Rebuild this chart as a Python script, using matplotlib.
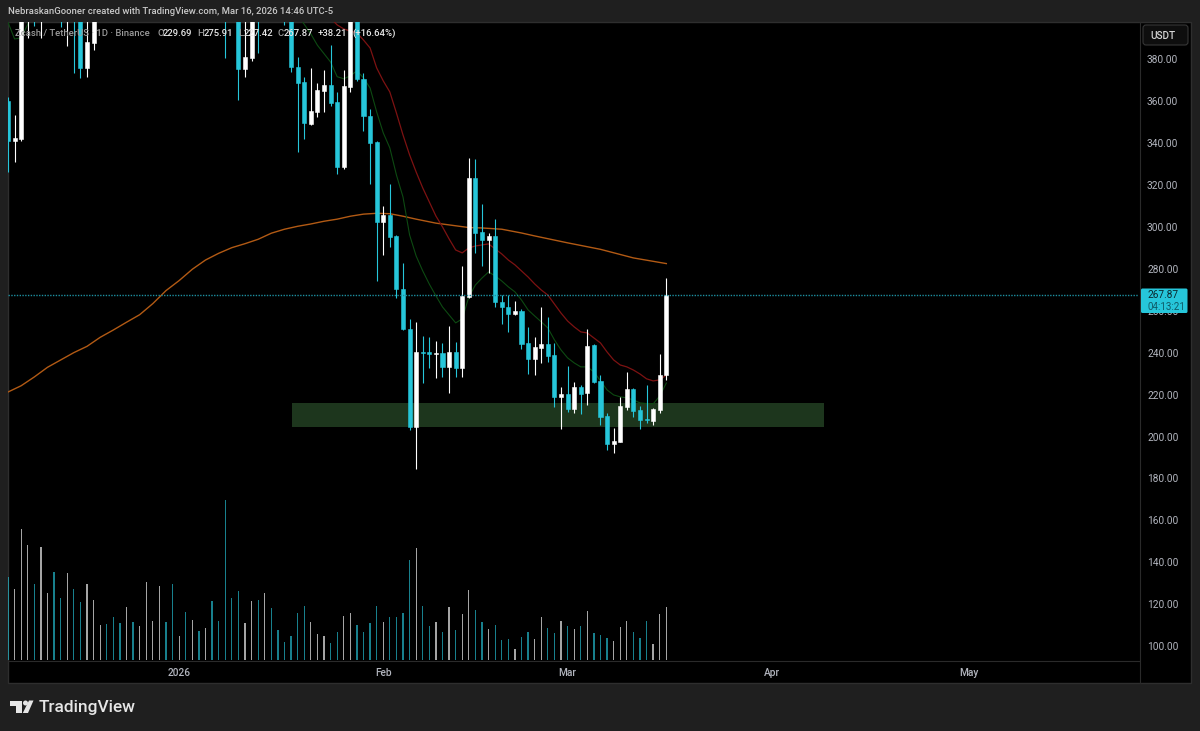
import numpy as np
import matplotlib
matplotlib.use('Agg')
import matplotlib.pyplot as plt
from matplotlib.patches import Rectangle, FancyBboxPatch, Polygon, Circle

plt.rcParams['font.family'] = ['Roboto', 'DejaVu Sans']

# Daily candles, Dec 6 2025 to Mar 16 2026. Those above the visible range are estimates
opens = [360.4, 341.3, 342.3, 425, 440, 410, 430, 455, 430, 405,
         425, 400, 376.2, 388.1, 410, 425, 415, 412, 405, 415,
         407, 414, 432, 440, 460, 448, 432, 440, 428, 436,
         428, 435, 424, 412, 420, 405, 375.7, 381, 415, 405,
         420, 410, 412, 402, 376.7, 369.5, 349.5, 355.2, 365.2, 368.1,
         359.9, 328.9, 367.1, 410, 370.9, 353.3, 340.9, 302.7, 306, 296,
         270.7, 251.6, 204.8, 240.6, 240.6, 239.7, 239.9, 233.5, 240.6, 233,
         266.9, 323.7, 297.9, 294.1, 296, 264.5, 262.1, 258.8, 260.2, 244.9,
         237.3, 242.5, 244.4, 239.2, 219.2, 220.6, 213.4, 223.9, 221.1, 243.9,
         226.8, 210.1, 196.7, 197.7, 214.4, 223, 213, 208.7, 207.7, 213, 229.69]
highs = [362.3, 353.7, 430, 450, 450, 440, 465, 460, 440, 435,
         430, 410, 405, 420, 440, 432, 425, 418, 422, 420,
         420, 438, 448, 470, 465, 455, 446, 446, 442, 440,
         442, 440, 430, 418, 425, 412, 402, 415, 420, 430,
         425, 415, 416, 408, 381.4, 371.9, 376.2, 369, 375.2, 387.2,
         364.7, 375.2, 420, 418, 373.8, 356.6, 341.3, 310.3, 320.8, 296.5,
         283.1, 256.4, 254.9, 248.3, 247.8, 245.9, 245, 253, 245.4, 281.7,
         333.2, 332.7, 311.3, 297.4, 304.1, 267.8, 267.8, 265, 261.2, 252.6,
         247.8, 262.1, 257.3, 245, 223.9, 234, 226.3, 224.9, 251.6, 244.4,
         229.6, 211.5, 204.4, 219.2, 231.1, 223.2, 214.9, 224.9, 213.9, 239.7, 275.91]
lows = [326.5, 331.3, 341.3, 390.5, 396.2, 390.5, 415, 415, 395.8, 386.7,
        373.8, 371.4, 371.9, 384.8, 402, 403, 400, 401, 401, 402,
        402, 408, 426, 432, 440, 425, 428, 420, 422, 420,
        424, 418, 405, 381, 400, 360.9, 371.9, 379.5, 383.3, 400,
        402, 399, 396.7, 374.3, 336.1, 342.3, 349, 352.8, 355.2, 358,
        325.6, 328, 364.7, 370, 346.1, 320.8, 274.5, 286.9, 290.7, 266.4,
        251.1, 203.4, 184.8, 225.8, 233, 228.2, 228.7, 221.1, 228.7, 228.7,
        266.5, 287.9, 281.7, 278.3, 262.1, 254, 250.2, 258.3, 242.1, 230.1,
        229.6, 235.4, 235.9, 214.4, 203.9, 212, 211.5, 211, 215.3, 225.8,
        205.8, 193.9, 192.4, 197.5, 213, 209.6, 203.9, 206.7, 205.8, 211.5, 227.42]
closes = [341.3, 342.8, 425, 440, 410, 430, 455, 430, 405, 425,
          400, 376.2, 388.6, 410, 425, 415, 405, 405, 415, 407,
          414, 432, 440, 460, 448, 432, 440, 428, 436, 428,
          435, 424, 412, 400, 405, 375.7, 381.4, 405, 405, 420,
          410, 402, 402, 376.7, 369, 349.9, 355.7, 365.7, 368.1, 359.5,
          328.9, 367.6, 410, 370.9, 353.3, 340.4, 302.7, 306, 295.5, 270.7,
          251.6, 204.8, 240.6, 240.1, 239.7, 240.1, 233.5, 240.6, 233, 267.4,
          323.7, 297.4, 294.1, 296, 264.5, 262.1, 258.8, 260.2, 244.4, 237.3,
          243, 244.4, 238.7, 219.2, 220.6, 213.4, 223.9, 220.6, 243.5, 226.3,
          209.6, 196.7, 198.1, 214.9, 223, 212.5, 208.2, 208.2, 213.4, 229.6, 267.87]
volumes = [83, 71, 131, 115, 76, 113, 67, 88, 62, 87,
           71, 58, 76, 60, 35, 36, 43, 37, 53, 38,
           34, 78, 39, 74, 38, 76, 24, 48, 40, 29,
           32, 59, 39, 160, 62, 69, 37, 59, 60, 67,
           52, 30, 18, 24, 47, 54, 38, 26, 24, 17,
           28, 44, 47, 35, 28, 37, 54, 38, 43, 43,
           47, 100, 112, 54, 34, 38, 28, 53, 30, 46,
           70, 50, 38, 31, 35, 20, 21, 11, 23, 28,
           21, 43, 32, 27, 39, 34, 31, 34, 49, 27,
           25, 22, 19, 33, 39, 28, 22, 39, 16, 46, 53]

# moving averages
long_ma_idx = [0, 2, 4, 6, 8, 10, 12, 14, 16, 18, 20, 22, 24, 26, 28, 30, 32, 34, 36, 38, 40,
               42, 44, 46, 48, 50, 52, 54, 56, 58, 60, 62, 65, 70, 72, 75, 78, 80, 85, 90, 95, 100]
long_ma = [221.5, 224.5, 228.7, 233.3, 236.8, 240.3, 243.3, 247.6, 251.1, 254.8, 258.4, 263.7, 269.9,
           274.7, 280.1, 284.5, 287.7, 290.4, 292.3, 294.4, 297.3, 299.2, 300.6, 301.7, 303, 304,
           305.4, 306.4, 306.8, 306.6, 305.4, 304, 302.1, 300, 299.8, 299.2, 297.4, 296, 292.7,
           289.6, 285.5, 282.8]

short_ma_head_idx = [0, 1, 2, 3, 4]
short_ma_head = [398, 390, 390.5, 397, 405]
short_ma_idx = list(range(44, 101))
short_ma = [401.5, 397, 392.4, 387, 383, 379, 372, 371, 372.4, 374.8, 371.4, 366.6, 355.2, 345.2, 338, 325.1,
            314.6, 296.5, 286.4, 279.3, 273, 267.4, 262.1, 258.3, 254.5, 256.4,
            266.9, 272.6, 275.9, 278.8, 276.9, 274.5, 271.7, 269.3, 265.4, 260.7,
            257.8, 255, 252.1, 246.4, 241.6, 237.8, 235.4, 233.5, 233.5, 231.1,
            226.8, 222.5, 220.1, 219.2, 218.7, 217.7, 216.3, 216, 215.8, 219.6, 225.8]
mid_ma_idx = list(range(49, 101))
mid_ma = [400, 396.7, 394.8, 393.8, 392.9, 389.5, 385.7, 376.2, 370, 364.7, 354.7,
          344.2, 334.7, 326.5, 318.9, 312.2, 305.5, 300.3, 294.6, 289.3, 287.9,
          290.3, 291.2, 291.7, 292.2, 289.8, 287.4, 284.5, 282.2, 279.3, 276.4,
          273.1, 270.2, 267.8, 263.5, 259.2, 255.4, 252.6, 250.2, 249.7, 247.3,
          244.9, 240.6, 236.8, 234.4, 233.5, 232, 230.1, 227.8, 226.8, 227.3, 229.6]

# demand zone
zone_start, zone_end = 43.1, 124
zone_low, zone_high = 204.8, 216.3

price_ticks = [380, 360, 340, 320, 300, 280, 260, 240, 220, 200, 180, 160, 140, 120, 100]
time_ticks = [26, 57, 85, 116, 146]
time_labels = ['2026', 'Feb', 'Mar', 'Apr', 'May']
last_price = 267.87

CYAN = '#26c6da'
WHITE = '#ffffff'
BG = '#1f1f1f'
AXIS_TEXT = '#b2b5be'

W, H = 1200, 731
fig = plt.figure(figsize=(12, 7.31), dpi=100, facecolor=BG)


def px_axes(left, top, right, bottom, **kw):
    return fig.add_axes([left / W, 1 - bottom / H, (right - left) / W, (bottom - top) / H], **kw)


# background panel in pixel coordinates
back = fig.add_axes([0, 0, 1, 1], zorder=0)
back.set_xlim(0, W)
back.set_ylim(H, 0)
back.axis('off')
back.add_patch(Rectangle((8, 22), 1183, 661, fc='black', ec='#2e2e2e', lw=1))
back.plot([8, 1139], [660.5, 660.5], color='#2a2a2a', lw=0.8)
back.plot([1139.5, 1139.5], [22, 683], color='#2a2a2a', lw=0.8)

x = np.arange(len(closes))
opens_a, closes_a = np.array(opens), np.array(closes)
colors = [WHITE if c >= o else CYAN for o, c in zip(opens, closes)]

ax_v = px_axes(8, 22, 1139, 660, zorder=1, facecolor='none')
ax_v.set_xlim(0, 171.8)
ax_v.set_ylim(0, 638)
ax_v.axis('off')
ax_v.bar(x, volumes, width=0.2, color=colors, alpha=0.65, linewidth=0)

ax = px_axes(8, 22, 1139, 660, zorder=2, facecolor='none')
ax.set_xlim(0, 171.8)
ax.set_ylim(93.6, 398.1)
ax.axis('off')

ax.add_patch(Rectangle((zone_start, zone_low), zone_end - zone_start, zone_high - zone_low,
                       fc='#1d361d', ec='none', zorder=1))
ax.plot(long_ma_idx, long_ma, color='#b25a14', lw=1.0, zorder=2)
ax.plot(short_ma_head_idx, short_ma_head, color='#0d4a12', lw=0.8, zorder=2)
ax.plot(short_ma_idx, short_ma, color='#0d4a12', lw=0.8, zorder=2)
ax.plot(mid_ma_idx, mid_ma, color='#7d1212', lw=0.9, zorder=2)

ax.vlines(x, lows, highs, colors=colors, lw=0.8, zorder=3)
ax.bar(x, np.abs(closes_a - opens_a), bottom=np.minimum(opens_a, closes_a), width=0.62,
       color=colors, edgecolor=colors, linewidth=0.4, zorder=4)
ax.axhline(last_price, color='#1d8fa0', lw=1.0, ls=(0, (1, 1)), zorder=5)

# overlay, everything that sits on top of the chart
ui = fig.add_axes([0, 0, 1, 1], zorder=3, facecolor='none')
ui.set_xlim(0, W)
ui.set_ylim(H, 0)
ui.axis('off')


def to_px(p):
    return H - ax.transData.transform((0, p))[1]


ui.text(8, 12, 'NebraskanGooner created with TradingView.com, Mar 16, 2026 14:46 UTC-5',
        color='#c8c8c8', fontsize=6.8, fontweight='medium', va='center', ha='left')

legend = [(15, 'Zcash / TetherUS · 1D · Binance', '#9a9a9a'),
          (157, 'O', '#9a9a9a'), (163, '229.69', '#e8e8e8'),
          (197, 'H', '#9a9a9a'), (204, '275.91', '#e8e8e8'),
          (238, 'L', '#9a9a9a'), (244, '227.42', '#e8e8e8'),
          (277, 'C', '#9a9a9a'), (284, '267.87', '#e8e8e8'),
          (318, '+38.21', '#e8e8e8'), (352, '(+16.64%)', '#e8e8e8')]
for lx, txt, col in legend:
    ui.text(lx, 33.5, txt, color=col, fontsize=6.8, fontweight='medium', va='center', ha='left')

for p in price_ticks:
    ui.text(1147, to_px(p) + 0.5, f'{p:.2f}', color=AXIS_TEXT, fontsize=7.3, va='center', ha='left')
for i, lab in zip(time_ticks, time_labels):
    tx = 8 + i * (1131 / 171.8)
    ui.text(tx, 673, lab, color=AXIS_TEXT, fontsize=7.3, fontweight='medium', va='center', ha='center')

# last price tag
ui.add_patch(FancyBboxPatch((1141, 288.5), 46.5, 24.5, boxstyle='round,pad=0,rounding_size=1.5',
                            fc=CYAN, ec='none', zorder=5))
ui.text(1147, 295, f'{last_price:.2f}', color='#0b2a30', fontsize=7.3, va='center', ha='left', zorder=6)
ui.text(1147, 306.5, '04:13:21', color='#0f5a66', fontsize=7.0, va='center', ha='left', zorder=6)

# currency button
ui.add_patch(FancyBboxPatch((1143, 25), 45, 20, boxstyle='round,pad=0,rounding_size=3', fc='#0e0e0e', ec='#363636', lw=0.8))
ui.text(1150, 36, 'USDT', color='#d5d5d5', fontsize=7.2, fontweight='medium', va='center', ha='left')

# TradingView logo
ui.add_patch(Polygon([(9.5, 700.5), (22, 700.5), (22, 713), (15.5, 713), (15.5, 705.5), (9.5, 705.5)], fc='#e6e6e6', ec='none'))
ui.add_patch(Circle((25.5, 703), 2.5, fc='#e6e6e6', ec='none'))
ui.add_patch(Polygon([(29, 700.5), (33.5, 700.5), (28, 713), (22.8, 713)], fc='#e6e6e6', ec='none'))
ui.text(39, 707.5, 'TradingView', color='#e6e6e6', fontsize=12.4, fontweight='medium', va='center', ha='left')

plt.savefig('out.png', dpi=100, facecolor=BG)
